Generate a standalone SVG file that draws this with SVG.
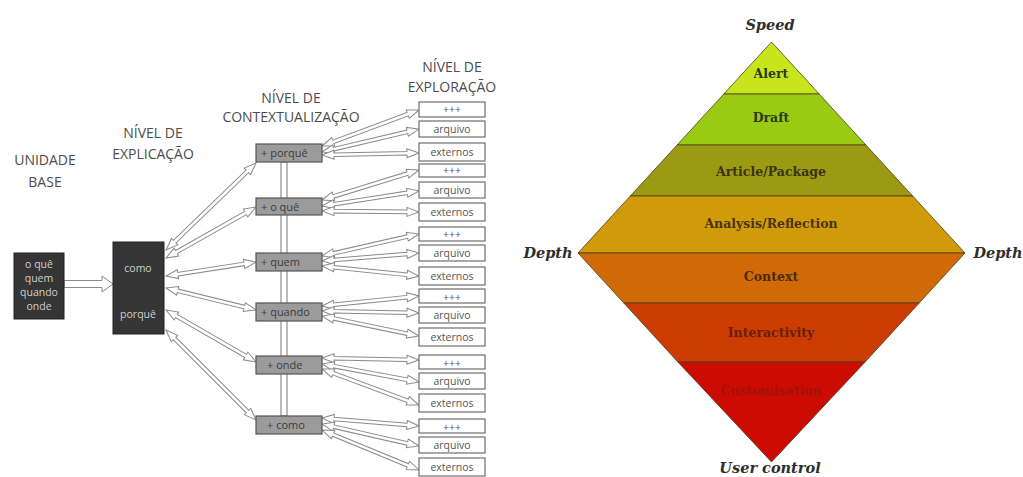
<svg xmlns="http://www.w3.org/2000/svg" width="1023" height="477" viewBox="0 0 1023 477">
  <style>
    .hdr { font-family: "Open Sans", "Noto Sans", sans-serif; font-size: 14px; fill: #4c4c4c; text-anchor: middle; }
    .dark { fill: #353535; stroke: #222; stroke-width: 1; }
    .dtxt { font-family: "Open Sans", "Noto Sans", sans-serif; font-size: 10.5px; fill: #cfcfcf; text-anchor: middle; }
    .ctx { fill: #9b9b9b; stroke: #555; stroke-width: 1.2; }
    .ctxt { font-family: "Open Sans", "Noto Sans", sans-serif; font-size: 11px; fill: #3c3c3c; }
    .exp { fill: #fff; stroke: #6e6e6e; stroke-width: 1.2; }
    .etxt { font-family: "Open Sans", "Noto Sans", sans-serif; font-size: 10.5px; fill: #555; text-anchor: middle; }
    .arr { fill: #fff; stroke: #8a8a8a; stroke-width: 1; stroke-linejoin: miter; }
    .band { stroke: #4a4020; stroke-width: 0.8; }
    .blab { font-family: "DejaVu Serif", "Liberation Serif", serif; font-weight: bold; font-size: 12.5px; text-anchor: middle; }
    .axis { font-family: "DejaVu Serif", "Liberation Serif", serif; font-weight: bold; font-style: italic; font-size: 14.5px; fill: #2e2e2e; text-anchor: middle; }
  </style>

  <rect width="1023" height="477" fill="#fff"/>

  <!-- ===== Levels of the news story (left) ===== -->
  <g id="headers">
    <text class="hdr" x="45" y="165">UNIDADE</text>
    <text class="hdr" x="45" y="187">BASE</text>
    <text class="hdr" x="153" y="138">NÍVEL DE</text>
    <text class="hdr" x="153" y="159">EXPLICAÇÃO</text>
    <text class="hdr" x="291" y="103">NÍVEL DE</text>
    <text class="hdr" x="291" y="122">CONTEXTUALIZAÇÃO</text>
    <text class="hdr" x="452" y="72">NÍVEL DE</text>
    <text class="hdr" x="452" y="92">EXPLORAÇÃO</text>
  </g>

  <!-- connectors -->
  <g id="connectors">
    <!-- base unit to explanation level -->
    <polygon class="arr" points="64,280.5 102,280.5 102,276 113,284 102,292 102,287.5 64,287.5"/>
    <!-- vertical link between context boxes -->
    <rect x="281" y="162" width="6" height="254" fill="#fff" stroke="#777" stroke-width="1"/>

    <!-- explanation level to context level -->
    <polygon class="arr" transform="translate(166,250) rotate(-44.0)" points="0,0 12,-4.5 12,-1.8 113.2,-1.8 113.2,-4.5 125.2,0 113.2,4.5 113.2,1.8 12,1.8 12,4.5"/>
    <polygon class="arr" transform="translate(166,258) rotate(-29.5)" points="0,0 12,-4.5 12,-1.8 91.4,-1.8 91.4,-4.5 103.4,0 91.4,4.5 91.4,1.8 12,1.8 12,4.5"/>
    <polygon class="arr" transform="translate(166,276) rotate(-8.8)" points="0,0 12,-4.5 12,-1.8 79.1,-1.8 79.1,-4.5 91.1,0 79.1,4.5 79.1,1.8 12,1.8 12,4.5"/>
    <polygon class="arr" transform="translate(166,288) rotate(13.7)" points="0,0 12,-4.5 12,-1.8 80.6,-1.8 80.6,-4.5 92.6,0 80.6,4.5 80.6,1.8 12,1.8 12,4.5"/>
    <polygon class="arr" transform="translate(166,310) rotate(30.0)" points="0,0 12,-4.5 12,-1.8 91.9,-1.8 91.9,-4.5 103.9,0 91.9,4.5 91.9,1.8 12,1.8 12,4.5"/>
    <polygon class="arr" transform="translate(166,330) rotate(45.0)" points="0,0 12,-4.5 12,-1.8 115.3,-1.8 115.3,-4.5 127.3,0 115.3,4.5 115.3,1.8 12,1.8 12,4.5"/>

    <!-- context level to exploration level -->
    <polygon class="arr" transform="translate(322,146) rotate(-20.4)" points="0,0 12,-4.5 12,-1.8 91.5,-1.8 91.5,-4.5 103.5,0 91.5,4.5 91.5,1.8 12,1.8 12,4.5"/>
    <polygon class="arr" transform="translate(322,152) rotate(-13.3)" points="0,0 12,-4.5 12,-1.8 87.7,-1.8 87.7,-4.5 99.7,0 87.7,4.5 87.7,1.8 12,1.8 12,4.5"/>
    <polygon class="arr" transform="translate(322,155) rotate(-1.2)" points="0,0 12,-4.5 12,-1.8 85,-1.8 85,-4.5 97,0 85,4.5 85,1.8 12,1.8 12,4.5"/>

    <polygon class="arr" transform="translate(322,200) rotate(-17.2)" points="0,0 12,-4.5 12,-1.8 89.5,-1.8 89.5,-4.5 101.5,0 89.5,4.5 89.5,1.8 12,1.8 12,4.5"/>
    <polygon class="arr" transform="translate(322,206) rotate(-8.8)" points="0,0 12,-4.5 12,-1.8 86.2,-1.8 86.2,-4.5 98.2,0 86.2,4.5 86.2,1.8 12,1.8 12,4.5"/>
    <polygon class="arr" transform="translate(322,211) rotate(0.6)" points="0,0 12,-4.5 12,-1.8 85,-1.8 85,-4.5 97,0 85,4.5 85,1.8 12,1.8 12,4.5"/>

    <polygon class="arr" transform="translate(322,256) rotate(-12.8)" points="0,0 12,-4.5 12,-1.8 87.5,-1.8 87.5,-4.5 99.5,0 87.5,4.5 87.5,1.8 12,1.8 12,4.5"/>
    <polygon class="arr" transform="translate(322,261) rotate(-4.7)" points="0,0 12,-4.5 12,-1.8 85.3,-1.8 85.3,-4.5 97.3,0 85.3,4.5 85.3,1.8 12,1.8 12,4.5"/>
    <polygon class="arr" transform="translate(322,266) rotate(5.9)" points="0,0 12,-4.5 12,-1.8 85.5,-1.8 85.5,-4.5 97.5,0 85.5,4.5 85.5,1.8 12,1.8 12,4.5"/>

    <polygon class="arr" transform="translate(322,306) rotate(-5.9)" points="0,0 12,-4.5 12,-1.8 85.5,-1.8 85.5,-4.5 97.5,0 85.5,4.5 85.5,1.8 12,1.8 12,4.5"/>
    <polygon class="arr" transform="translate(322,311) rotate(1.2)" points="0,0 12,-4.5 12,-1.8 85,-1.8 85,-4.5 97,0 85,4.5 85,1.8 12,1.8 12,4.5"/>
    <polygon class="arr" transform="translate(322,316) rotate(11.7)" points="0,0 12,-4.5 12,-1.8 87,-1.8 87,-4.5 99,0 87,4.5 87,1.8 12,1.8 12,4.5"/>

    <polygon class="arr" transform="translate(322,358) rotate(1.2)" points="0,0 12,-4.5 12,-1.8 85,-1.8 85,-4.5 97,0 85,4.5 85,1.8 12,1.8 12,4.5"/>
    <polygon class="arr" transform="translate(322,364) rotate(10.5)" points="0,0 12,-4.5 12,-1.8 86.7,-1.8 86.7,-4.5 98.7,0 86.7,4.5 86.7,1.8 12,1.8 12,4.5"/>
    <polygon class="arr" transform="translate(322,369) rotate(20.4)" points="0,0 12,-4.5 12,-1.8 91.5,-1.8 91.5,-4.5 103.5,0 91.5,4.5 91.5,1.8 12,1.8 12,4.5"/>

    <polygon class="arr" transform="translate(322,418) rotate(4.7)" points="0,0 12,-4.5 12,-1.8 85.3,-1.8 85.3,-4.5 97.3,0 85.3,4.5 85.3,1.8 12,1.8 12,4.5"/>
    <polygon class="arr" transform="translate(322,424) rotate(12.8)" points="0,0 12,-4.5 12,-1.8 87.5,-1.8 87.5,-4.5 99.5,0 87.5,4.5 87.5,1.8 12,1.8 12,4.5"/>
    <polygon class="arr" transform="translate(322,430) rotate(22.4)" points="0,0 12,-4.5 12,-1.8 92.9,-1.8 92.9,-4.5 104.9,0 92.9,4.5 92.9,1.8 12,1.8 12,4.5"/>
  </g>

  <!-- base unit -->
  <g id="base-unit">
    <rect class="dark" x="14" y="253" width="50" height="66"/>
    <text class="dtxt" x="39" y="268">o quê</text>
    <text class="dtxt" x="39" y="282">quem</text>
    <text class="dtxt" x="39" y="296">quando</text>
    <text class="dtxt" x="39" y="310">onde</text>
  </g>

  <!-- explanation level -->
  <g id="explanation">
    <rect class="dark" x="113" y="242" width="51" height="92"/>
    <text class="dtxt" x="138" y="272">como</text>
    <text class="dtxt" x="138" y="318">porquê</text>
  </g>

  <!-- context level -->
  <g id="ctx-porque">
    <rect class="ctx" x="256" y="144" width="66" height="18"/>
    <text class="ctxt" x="261" y="157">+ porquê</text>
  </g>
  <g id="ctx-oque">
    <rect class="ctx" x="256" y="198" width="66" height="17"/>
    <text class="ctxt" x="261" y="211">+ o quê</text>
  </g>
  <g id="ctx-quem">
    <rect class="ctx" x="256" y="253" width="66" height="18"/>
    <text class="ctxt" x="261" y="266">+ quem</text>
  </g>
  <g id="ctx-quando">
    <rect class="ctx" x="256" y="303" width="66" height="18"/>
    <text class="ctxt" x="261" y="316">+ quando</text>
  </g>
  <g id="ctx-onde">
    <rect class="ctx" x="256" y="356" width="66" height="18"/>
    <text class="ctxt" x="267" y="369">+ onde</text>
  </g>
  <g id="ctx-como">
    <rect class="ctx" x="256" y="416" width="66" height="18"/>
    <text class="ctxt" x="267" y="429">+ como</text>
  </g>

  <!-- exploration level -->
  <g id="exp-1">
    <rect class="exp" x="419" y="102" width="66" height="15"/><text class="etxt" x="452" y="113">+++</text>
    <rect class="exp" x="419" y="121" width="66" height="16"/><text class="etxt" x="452" y="133">arquivo</text>
    <rect class="exp" x="419" y="143" width="66" height="18"/><text class="etxt" x="452" y="156">externos</text>
  </g>
  <g id="exp-2">
    <rect class="exp" x="419" y="164" width="66" height="13"/><text class="etxt" x="452" y="174">+++</text>
    <rect class="exp" x="419" y="182" width="66" height="16"/><text class="etxt" x="452" y="194">arquivo</text>
    <rect class="exp" x="419" y="203" width="66" height="18"/><text class="etxt" x="452" y="216">externos</text>
  </g>
  <g id="exp-3">
    <rect class="exp" x="419" y="227" width="66" height="14"/><text class="etxt" x="452" y="238">+++</text>
    <rect class="exp" x="419" y="245" width="66" height="16"/><text class="etxt" x="452" y="257">arquivo</text>
    <rect class="exp" x="419" y="267" width="66" height="18"/><text class="etxt" x="452" y="280">externos</text>
  </g>
  <g id="exp-4">
    <rect class="exp" x="419" y="289" width="66" height="14"/><text class="etxt" x="452" y="301">+++</text>
    <rect class="exp" x="419" y="307" width="66" height="16"/><text class="etxt" x="452" y="319">arquivo</text>
    <rect class="exp" x="419" y="328" width="66" height="18"/><text class="etxt" x="452" y="341">externos</text>
  </g>
  <g id="exp-5">
    <rect class="exp" x="419" y="355" width="66" height="14"/><text class="etxt" x="452" y="367">+++</text>
    <rect class="exp" x="419" y="373" width="66" height="16"/><text class="etxt" x="452" y="385">arquivo</text>
    <rect class="exp" x="419" y="394" width="66" height="18"/><text class="etxt" x="452" y="407">externos</text>
  </g>
  <g id="exp-6">
    <rect class="exp" x="419" y="419" width="66" height="14"/><text class="etxt" x="452" y="431">+++</text>
    <rect class="exp" x="419" y="437" width="66" height="16"/><text class="etxt" x="452" y="449">arquivo</text>
    <rect class="exp" x="419" y="458" width="66" height="18"/><text class="etxt" x="452" y="471">externos</text>
  </g>

  <!-- ===== Diamond model (right): half-width grows 0.917 px per px from apex ===== -->
  <g id="diamond">
    <polygon id="band-alert" class="band" fill="#c8e41c" points="771.5,42 819.2,94 723.8,94"/>
    <polygon id="band-draft" class="band" fill="#9acb12" points="723.8,94 819.2,94 865.9,145 677.1,145"/>
    <polygon id="band-article" class="band" fill="#9c9a12" points="677.1,145 865.9,145 912.7,196 630.3,196"/>
    <polygon id="band-analysis" class="band" fill="#d09a08" points="630.3,196 912.7,196 965,253 578,253"/>
    <polygon id="band-context" class="band" fill="#d06a06" points="578,253 965,253 919.2,303 623.8,303"/>
    <polygon id="band-interactivity" class="band" fill="#cc3b02" points="623.8,303 919.2,303 865.1,362 677.9,362"/>
    <polygon id="band-customisation" class="band" fill="#cc0c02" points="677.9,362 865.1,362 771.5,462"/>

    <text class="blab" x="771" y="78" fill="#2c3a10">Alert</text>
    <text class="blab" x="771" y="122" fill="#2c3a10">Draft</text>
    <text class="blab" x="771" y="176" fill="#3a3410">Article/Package</text>
    <text class="blab" x="771" y="228" fill="#4a3510">Analysis/Reflection</text>
    <text class="blab" x="771" y="281" fill="#4a2a10">Context</text>
    <text class="blab" x="771" y="337" fill="#6a2008">Interactivity</text>
    <text class="blab" x="771" y="395" fill="#a01408">Customisation</text>
  </g>

  <g id="axis-labels">
    <text class="axis" x="770" y="30">Speed</text>
    <text class="axis" x="548" y="258">Depth</text>
    <text class="axis" x="998" y="258">Depth</text>
    <text class="axis" x="770" y="473">User control</text>
  </g>
</svg>
